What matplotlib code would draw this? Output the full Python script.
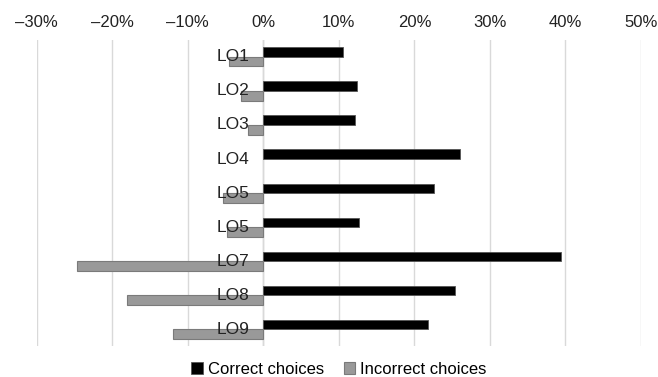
import numpy as np
import matplotlib
matplotlib.use("Agg")
import matplotlib.pyplot as plt
from matplotlib.ticker import FuncFormatter

# data (percent)
categories = ["LO1", "LO2", "LO3", "LO4", "LO5", "LO5", "LO7", "LO8", "LO9"]
correct = [10.6, 12.4, 12.2, 26.1, 22.6, 12.7, 39.4, 25.4, 21.8]
incorrect = [-4.5, -3.0, -2.0, 0.0, -5.4, -4.8, -24.7, -18.0, -12.0]

plt.rcParams["font.family"] = ["Liberation Sans", "DejaVu Sans"]

fig = plt.figure(figsize=(6.58, 3.77), dpi=100)
ax = fig.add_axes([0.056, 0.082, 0.918, 0.812])

y = np.arange(len(categories))
h = 0.28
ax.barh(y - h / 2, correct, height=h, color="black", edgecolor="#555555",
        linewidth=0.6, label="Correct choices", zorder=2)
# no outline on empty bars (LO4 has no incorrect choices)
edges = ["#7a7a7a" if v != 0 else "none" for v in incorrect]
ax.barh(y + h / 2, incorrect, height=h, color="#999999", edgecolor=edges,
        linewidth=0.8, label="Incorrect choices", zorder=2)

# category labels sit just left of the zero line, drawn over the bars
for yi, name in zip(y, categories):
    ax.text(-1.9, yi, name, ha="right", va="center", fontsize=12.5,
            color="#222222", zorder=3)

ax.set_xlim(-30, 50)
ax.set_ylim(len(categories) - 0.5, -0.5)
ax.set_xticks(np.arange(-30, 51, 10))
ax.xaxis.set_major_formatter(FuncFormatter(
    lambda v, p: ("\u2013" if v < 0 else "") + f"{abs(v):.0f}%"))
ax.xaxis.tick_top()
ax.tick_params(axis="x", length=0, labelsize=12, pad=7, colors="#222222")
ax.set_yticks([])
ax.grid(axis="x", color="#d9d9d9", linewidth=1, zorder=0)
ax.axvline(0, color="#d0d0d0", linewidth=1, zorder=1)
for s in ax.spines.values():
    s.set_visible(False)

fig.legend(loc="lower center", bbox_to_anchor=(0.515, -0.04), ncol=2,
           frameon=False, fontsize=12, handlelength=0.7, handleheight=0.7,
           handletextpad=0.3, columnspacing=1.2)

fig.savefig("out.png", dpi=100)
